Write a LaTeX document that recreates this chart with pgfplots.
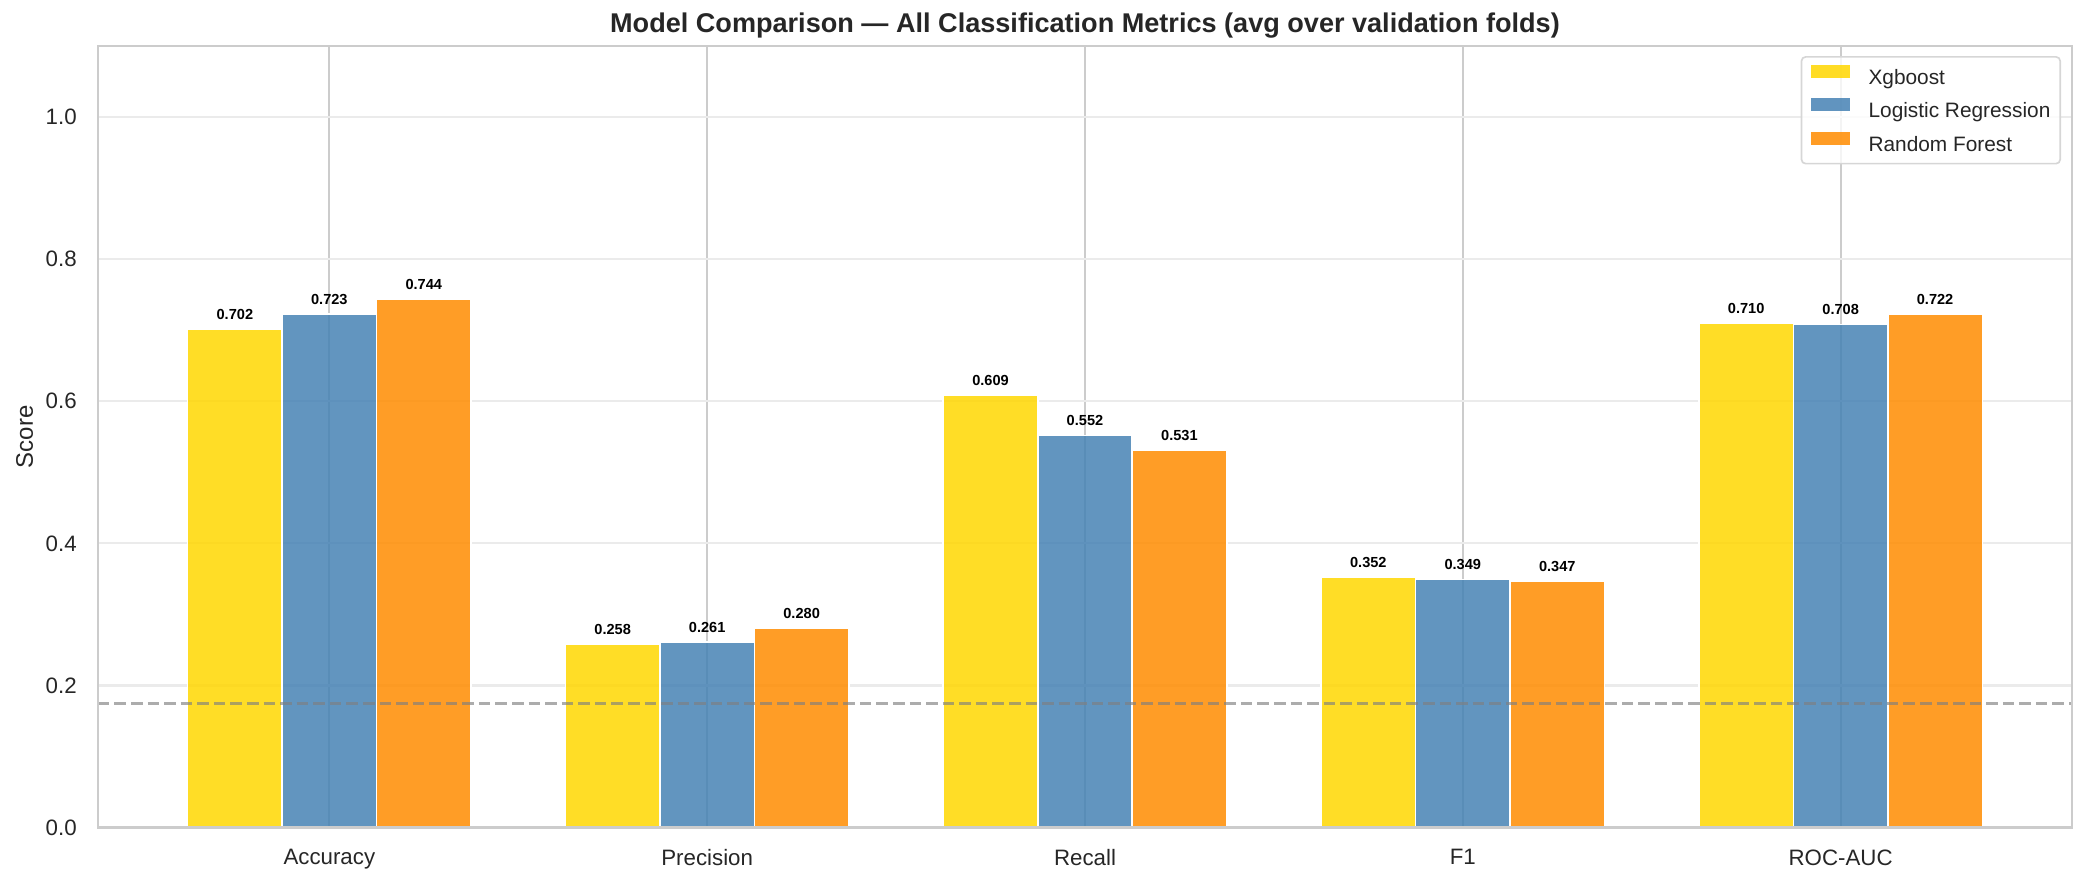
\documentclass[border=0pt]{standalone}
\usepackage{fontspec}
\setmainfont{Liberation Sans}
\usepackage{pgfplots}
\pgfplotsset{compat=1.18}

\definecolor{xgb}{HTML}{FFD700}
\definecolor{logreg}{HTML}{4682B4}
\definecolor{rf}{HTML}{FF8C00}
\definecolor{spine}{HTML}{CCCCCC}
\definecolor{vgrid}{HTML}{CCCCCC}
\definecolor{hgrid}{HTML}{EBEBEB}
\definecolor{legedge}{HTML}{D6D6D6}
\definecolor{txt}{HTML}{262626}

% one style for every bar series: width and shift in axis units
% (181.34pt is one x unit, the value labels are moved by hand)
\pgfplotsset{
  modelbar/.style={
    ybar, bar width=0.25, bar shift=#1,
    draw=white, line width=0.8pt, fill opacity=0.85,
    nodes near coords={\pgfmathprintnumber[fixed,fixed zerofill,precision=3,assume math mode=true]{\pgfplotspointmeta}},
    every node near coord/.append style={anchor=base, xshift=#1*181.34pt, yshift=4.7pt,
      text=black, text opacity=1, font=\bfseries\fontsize{7}{8}\selectfont},
  },
}

\begin{document}
\begin{tikzpicture}
\begin{axis}[
  scale only axis, width=947.5pt, height=375.1pt,
  xmin=-0.6125, xmax=4.6125, ymin=0, ymax=1.1,
  xtick={0,1,2,3,4},
  xticklabels={Accuracy,Precision,Recall,F1,ROC-AUC},
  ytick={0,0.2,0.4,0.6,0.8,1.0},
  yticklabel={\pgfmathprintnumber[fixed,fixed zerofill,precision=1,assume math mode=true]{\tick}},
  major tick length=0pt,
  tick label style={font=\fontsize{10.7}{12}\selectfont, text=txt, inner sep=0pt},
  xticklabel style={anchor=north, yshift=-10.3pt},
  yticklabel style={anchor=east, xshift=-10pt},
  xmajorgrids, ymajorgrids,
  x grid style={vgrid, line width=1pt},
  y grid style={hgrid, line width=1pt},
  axis line style={spine, line width=1.25pt},
  title={Model Comparison — All Classification Metrics (avg over validation folds)},
  title style={at={(0.5,1)}, anchor=base, yshift=0.7pt, text=txt,
    font=\bfseries\fontsize{13}{15}\selectfont},
  ylabel={Score},
  ylabel style={at={(-0.03293,0.5)}, anchor=base, text=txt,
    font=\fontsize{11.5}{13}\selectfont},
  legend style={at={(0.99441,0.98720)}, anchor=north east,
    draw=legedge, line width=0.8pt, rounded corners=2pt,
    fill=white, fill opacity=0.8, text opacity=1, text=txt,
    font=\fontsize{10}{12}\selectfont,
    inner xsep=4.7pt, inner ysep=3.8pt,
    nodes={inner sep=0pt, text height=7.5pt, text depth=2.2pt},
    column sep=9.1pt, row sep=4.5pt},
  legend cell align=left,
  legend image code/.code={\fill[#1, draw=none, sharp corners] (0pt,0.5pt) rectangle (18.4pt,6.7pt);},
]
\addplot[modelbar=-0.25, fill=xgb] coordinates {
  (0,0.702) (1,0.258) (2,0.609) (3,0.352) (4,0.710)};
\addlegendentry{Xgboost}
\addplot[modelbar=0, fill=logreg] coordinates {
  (0,0.723) (1,0.261) (2,0.552) (3,0.349) (4,0.708)};
\addlegendentry{Logistic Regression}
\addplot[modelbar=0.25, fill=rf] coordinates {
  (0,0.744) (1,0.280) (2,0.531) (3,0.347) (4,0.722)};
\addlegendentry{Random Forest}

% baseline reference line
\addplot[sharp plot, forget plot, draw=gray, draw opacity=0.65, line width=1.5pt,
  dash pattern=on 5.55pt off 2.4pt] coordinates {(-0.6125,0.175) (4.6125,0.175)};

\coordinate (sw) at (rel axis cs:0,0);
\coordinate (ne) at (rel axis cs:1,1);
\end{axis}
% spines over the bars, then fix the page to the reference size
\draw[spine, line width=1.25pt] (sw) rectangle (ne);
\pgfresetboundingbox
\path[use as bounding box] ([shift={(-47pt,-26.6pt)}]sw) rectangle ([shift={(6.7pt,22.1pt)}]ne);
\end{tikzpicture}
\end{document}
